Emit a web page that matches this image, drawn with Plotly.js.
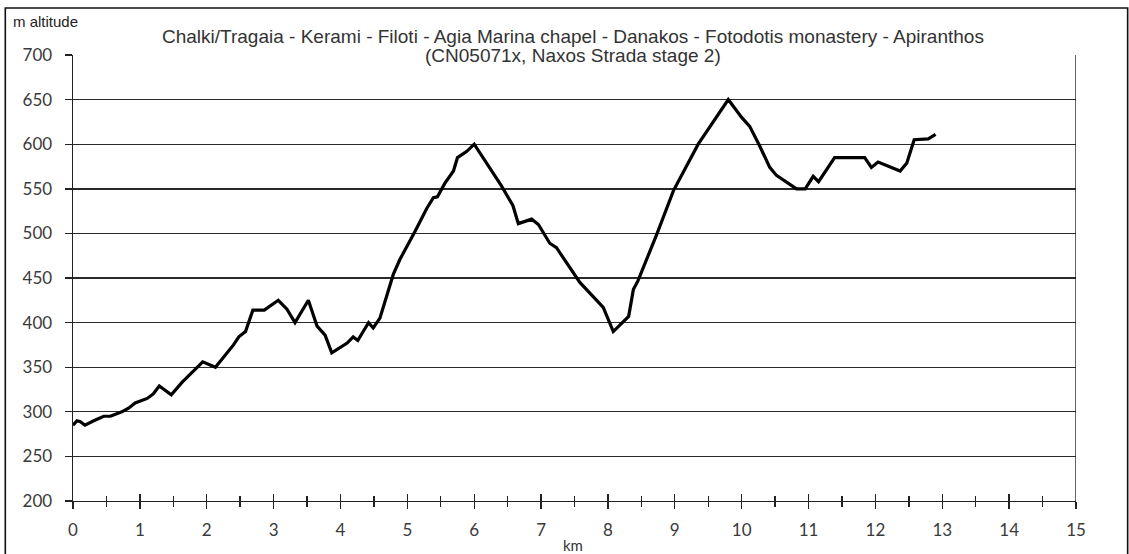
<!DOCTYPE html>
<html>
<head>
<meta charset="utf-8">
<script src="https://cdn.plot.ly/plotly-3.0.1.min.js"></script>
<style>html,body{margin:0;padding:0;background:#fff;}#chart{width:1129px;height:554px;}</style>
</head>
<body>
<div id="chart"></div>
<script>
// distance along the route (km)
const km = [0.00, 0.06, 0.11, 0.18, 0.31, 0.46, 0.56, 0.73, 0.83, 0.93, 1.11, 1.20, 1.29, 1.47, 1.63, 1.80, 1.94, 2.13, 2.25, 2.40, 2.48, 2.58, 2.69, 2.86, 3.07, 3.20, 3.32, 3.52, 3.65, 3.77, 3.87, 4.10, 4.19, 4.26, 4.34, 4.42, 4.49, 4.59, 4.79, 4.89, 5.12, 5.29, 5.39, 5.45, 5.56, 5.69, 5.75, 5.89, 6.00, 6.24, 6.41, 6.58, 6.66, 6.86, 6.96, 7.13, 7.23, 7.58, 7.93, 8.08, 8.21, 8.31, 8.38, 8.45, 8.73, 8.98, 9.35, 9.80, 10.00, 10.12, 10.27, 10.42, 10.52, 10.82, 10.95, 11.07, 11.15, 11.39, 11.84, 11.94, 12.04, 12.37, 12.47, 12.58, 12.79, 12.90];
// altitude (m)
const altitude = [285, 290, 289, 285, 290, 295, 295, 300, 304, 310, 315, 320, 329, 319, 333, 346, 356, 350, 361, 375, 384, 390, 414, 414, 425, 415, 400, 425, 396, 386, 366, 377, 384, 380, 390, 400, 394, 405, 454, 471, 503, 528, 540, 541, 556, 570, 585, 592, 600, 573, 553, 531, 511, 516, 510, 489, 484, 445, 417, 390, 400, 407, 437, 447, 499, 548, 600, 650, 630, 620, 598, 574, 565, 550, 550, 564, 558, 585, 585, 574, 580, 570, 579, 605, 606, 611];

const titleLine1 = "Chalki/Tragaia - Kerami - Filoti - Agia Marina chapel - Danakos - Fotodotis monastery - Apiranthos";
const titleLine2 = "(CN05071x, Naxos Strada stage 2)";
const yLabel = "m altitude";
const xLabel = "km";
const xTickVals = [0,1,2,3,4,5,6,7,8,9,10,11,12,13,14,15];
const yTickVals = [200,250,300,350,400,450,500,550,600,650,700];

const tickFont = {family: "Lato, 'Open Sans', sans-serif", size: 17, color: "#3a3a3a"};

const trace = {
  x: km, y: altitude, type: "scatter", mode: "lines",
  line: {color: "#000", width: 3.2}, hoverinfo: "skip", xaxis: "x", yaxis: "y"
};
// invisible trace to activate the overlaid axis for inward half of crossing ticks
const trace2 = {x: [0, 15], y: [200, 200], type: "scatter", mode: "lines",
  line: {color: "rgba(0,0,0,0)", width: 0}, hoverinfo: "skip", xaxis: "x2", yaxis: "y", showlegend: false};

const layout = {
  width: 1129, height: 554,
  margin: {l: 72.7, r: 53.3, t: 55, b: 53.3, pad: 0},
  paper_bgcolor: "#fff", plot_bgcolor: "#fff",
  showlegend: false,
  font: {family: "'Liberation Sans', Arial, sans-serif", color: "#333"},
  xaxis: {
    range: [0, 15], tickvals: xTickVals, ticktext: xTickVals.map(String),
    showgrid: false, zeroline: false,
    showline: true, linecolor: "#222", linewidth: 1.4,
    ticks: "outside", ticklen: 7, tickwidth: 1.4, tickcolor: "#222",
    minor: {tickvals: xTickVals.slice(0, -1).map(v => v + 0.5), ticks: "outside", ticklen: 5, tickwidth: 1.4, tickcolor: "#222"},
    tickfont: tickFont, ticklabelstandoff: 6, fixedrange: true
  },
  xaxis2: {
    overlaying: "x", range: [0, 15], tickvals: xTickVals, showticklabels: false,
    showgrid: false, zeroline: false, showline: false,
    ticks: "inside", ticklen: 7, tickwidth: 1.4, tickcolor: "#222",
    minor: {tickvals: xTickVals.slice(0, -1).map(v => v + 0.5), ticks: "inside", ticklen: 5, tickwidth: 1.4, tickcolor: "#222"},
    anchor: "y", side: "bottom", fixedrange: true
  },
  yaxis: {
    range: [200, 700], tickvals: yTickVals, ticktext: yTickVals.map(String),
    showgrid: true, gridcolor: "#2a2a2a", gridwidth: 1.4,
    zeroline: false, showline: true, linecolor: "#222", linewidth: 1.4,
    ticks: "outside", ticklen: 7, tickwidth: 1.4, tickcolor: "#222",
    tickfont: tickFont, ticklabelstandoff: 9, fixedrange: true
  },
  shapes: [
    // right border of plot area
    {type: "line", xref: "x", yref: "y", x0: 15, x1: 15, y0: 200, y1: 700, line: {color: "#222", width: 1.4}},
    // outer chart frame
    {type: "rect", xref: "paper", yref: "paper", x0: -0.0675, x1: 1.0515, y0: -0.13, y1: 1.1054,
     line: {color: "#111", width: 1.6}, fillcolor: "rgba(0,0,0,0)", layer: "above"}
  ],
  annotations: [
    {text: titleLine1, xref: "paper", yref: "paper", x: 0.4985, y: 1.0426, xanchor: "center", yanchor: "middle",
     showarrow: false, font: {family: "'Liberation Sans', Arial, sans-serif", size: 19, color: "#333"}},
    {text: titleLine2, xref: "paper", yref: "paper", x: 0.4985, y: 0.9985, xanchor: "center", yanchor: "middle",
     showarrow: false, font: {family: "'Liberation Sans', Arial, sans-serif", size: 19, color: "#333"}},
    {text: yLabel, xref: "paper", yref: "paper", x: -0.0615, y: 1.0742, xanchor: "left", yanchor: "middle",
     showarrow: false, font: {family: "'Liberation Sans', Arial, sans-serif", size: 15, color: "#222"}},
    {text: xLabel, xref: "paper", yref: "paper", x: 0.4985, y: -0.0992, xanchor: "center", yanchor: "middle",
     showarrow: false, font: {family: "Lato, 'Open Sans', sans-serif", size: 15, color: "#333"}}
  ]
};

Plotly.newPlot("chart", [trace, trace2], layout, {staticPlot: true, displayModeBar: false});
</script>
</body>
</html>
